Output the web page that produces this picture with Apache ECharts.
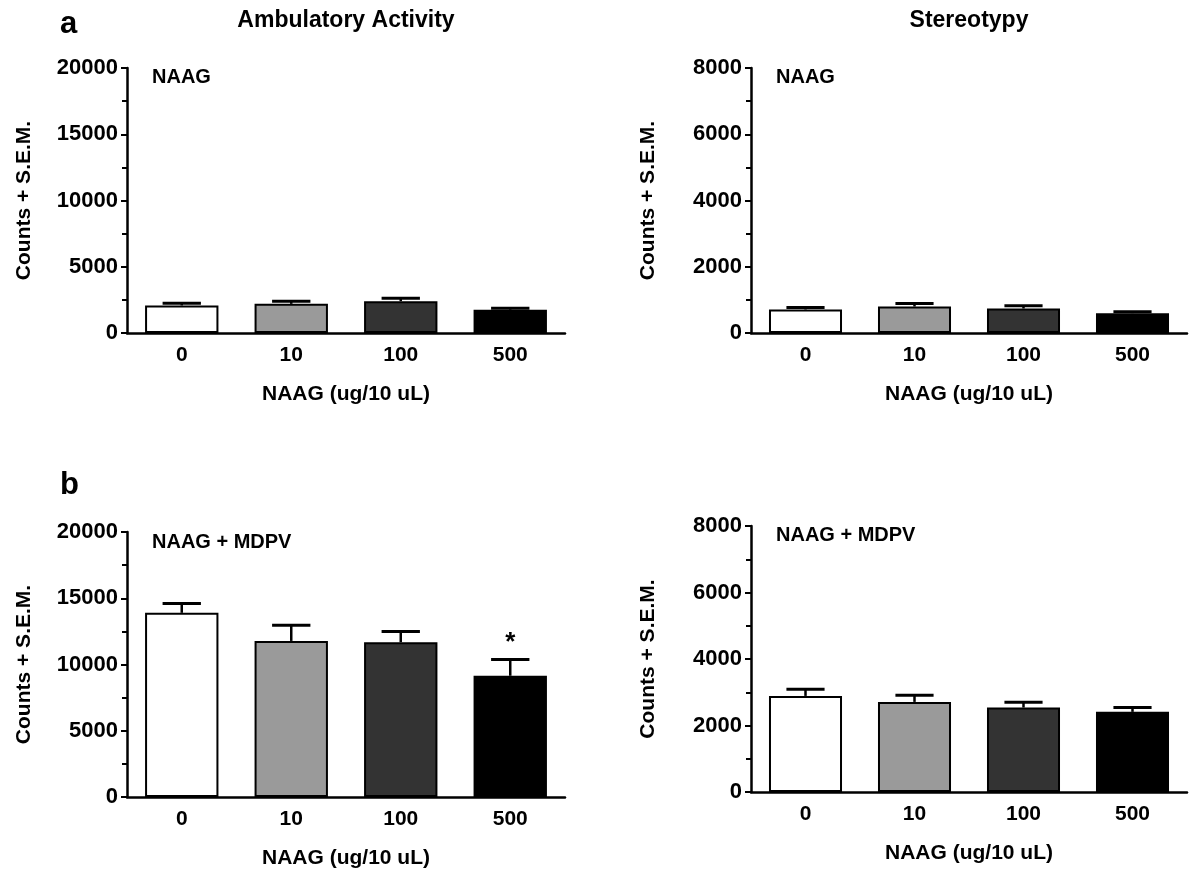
<!DOCTYPE html>
<html>
<head>
<meta charset="utf-8">
<script src="https://cdn.jsdelivr.net/npm/echarts@6/dist/echarts.min.js"></script>
<style>
html,body{margin:0;padding:0;background:#fff;}
#chart{width:1189px;height:872px;}
</style>
</head>
<body>
<div id="chart"></div>
<script>
// ---- data ----
const categories = ['0', '10', '100', '500'];
const barColors = ['#ffffff', '#9a9a9a', '#333333', '#000000'];

const ambNAAG = [2080, 2200, 2400, 1760];
const ambNAAGsem = [160, 200, 230, 110];
const ambNAAGsig = ['', '', '', ''];

const stereoNAAG = [710, 800, 740, 600];
const stereoNAAGsem = [60, 90, 80, 40];
const stereoNAAGsig = ['', '', '', ''];

const ambMDPV = [13900, 11780, 11680, 9150];
const ambMDPVsem = [700, 1180, 810, 1230];
const ambMDPVsig = ['', '', '', '*'];

const stereoMDPV = [2890, 2710, 2540, 2410];
const stereoMDPVsem = [200, 200, 160, 130];
const stereoMDPVsig = ['', '', '', ''];

const yMaxAmb = 20000, yIntAmb = 5000;
const yMaxSte = 8000, yIntSte = 2000;

const xTitle = 'NAAG (ug/10 uL)';
const yTitle = 'Counts + S.E.M.';

// ---- layout ----
const FONT = '"Liberation Sans", Arial, Helvetica, sans-serif';
const grids = [
  {left: 127, top: 68, width: 438, height: 265},
  {left: 751, top: 68, width: 436, height: 265},
  {left: 127, top: 532, width: 438, height: 265},
  {left: 751, top: 526, width: 436, height: 266}
];
const panels = [
  {mean: ambNAAG, sem: ambNAAGsem, sig: ambNAAGsig, max: yMaxAmb, interval: yIntAmb},
  {mean: stereoNAAG, sem: stereoNAAGsem, sig: stereoNAAGsig, max: yMaxSte, interval: yIntSte},
  {mean: ambMDPV, sem: ambMDPVsem, sig: ambMDPVsig, max: yMaxAmb, interval: yIntAmb},
  {mean: stereoMDPV, sem: stereoMDPVsem, sig: stereoMDPVsig, max: yMaxSte, interval: yIntSte}
];

const labelStyle = {color: '#000', fontFamily: FONT, fontWeight: 'bold', fontSize: 21};

const xAxes = panels.map((p, i) => ({
  type: 'category', gridIndex: i, data: categories,
  axisLine: {lineStyle: {color: '#000', width: 2.5}},
  axisTick: {alignWithLabel: true, length: 6, lineStyle: {color: '#000', width: 2}},
  axisLabel: Object.assign({margin: 12}, labelStyle),
  name: xTitle, nameLocation: 'middle', nameGap: 51,
  nameTextStyle: labelStyle
}));
const yAxes = panels.map((p, i) => ({
  type: 'value', gridIndex: i, min: 0, max: p.max, interval: p.interval,
  axisLine: {show: true, lineStyle: {color: '#000', width: 2.5}},
  axisTick: {show: true, length: 6, lineStyle: {color: '#000', width: 2}},
  minorTick: {show: true, splitNumber: 2, length: 5, lineStyle: {color: '#000', width: 2}},
  splitLine: {show: false},
  axisLabel: Object.assign({margin: 9, formatter: function (v) { return String(v); }},
    labelStyle, {fontSize: 22}),
  name: yTitle, nameLocation: 'middle', nameGap: 92,
  nameTextStyle: labelStyle
}));

const series = [];
panels.forEach((p, i) => {
  series.push({
    type: 'bar', xAxisIndex: i, yAxisIndex: i,
    barCategoryGap: '33%',
    data: p.mean.map((v, k) => ({value: v, itemStyle: {color: barColors[k]}})),
    itemStyle: {borderColor: '#000', borderWidth: 2},
    silent: true, z: 2
  });
  series.push({
    type: 'custom', xAxisIndex: i, yAxisIndex: i, z: 3, silent: true,
    data: p.mean.map((v, k) => [k, v, p.sem[k]]),
    renderItem: function (params, api) {
      const k = api.value(0);
      const m = api.value(1);
      const s = api.value(2);
      const base = api.coord([k, m]);
      const top = api.coord([k, m + s]);
      const band = api.size([1, 0])[0];
      const hw = band * 0.175;
      const children = [
        {type: 'line', shape: {x1: base[0], y1: base[1], x2: top[0], y2: top[1]},
         style: {stroke: '#000', lineWidth: 2.5}},
        {type: 'line', shape: {x1: top[0] - hw, y1: top[1], x2: top[0] + hw, y2: top[1]},
         style: {stroke: '#000', lineWidth: 3}}
      ];
      const sg = p.sig[k];
      if (sg) {
        children.push({type: 'text', style: {text: sg, x: top[0], y: top[1] - 4,
          align: 'center', verticalAlign: 'bottom', fill: '#000',
          font: 'bold 26px ' + FONT}});
      }
      return {type: 'group', children: children};
    }
  });
});

function txt(text, x, y, size, align) {
  return {type: 'text', x: x, y: y, style: {text: text, fill: '#000',
    font: 'bold ' + size + 'px ' + FONT, align: align || 'left', verticalAlign: 'middle'}};
}

const graphic = [
  txt('a', 60, 24, 31),
  txt('b', 60, 485, 31),
  txt('Ambulatory Activity', 346, 21, 23, 'center'),
  txt('Stereotypy', 969, 21, 23, 'center'),
  txt('NAAG', 152, 77, 20),
  txt('NAAG', 776, 77, 20),
  txt('NAAG + MDPV', 152, 542, 20),
  txt('NAAG + MDPV', 776, 535, 20)
];

const chart = echarts.init(document.getElementById('chart'), null, {renderer: 'canvas'});
chart.setOption({
  animation: false,
  backgroundColor: '#fff',
  grid: grids,
  xAxis: xAxes,
  yAxis: yAxes,
  series: series,
  graphic: graphic
});
</script>
</body>
</html>
